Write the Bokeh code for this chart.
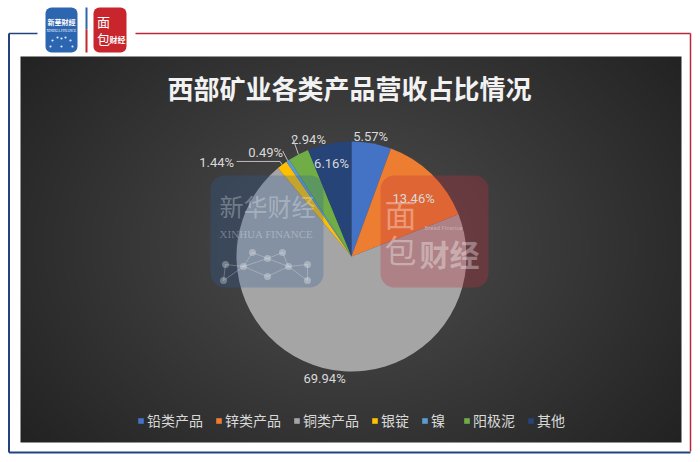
import numpy as np
from bokeh.plotting import figure
from bokeh.models import Range1d, ColumnDataSource
from bokeh.core.properties import value
from bokeh.embed import file_html
from bokeh.resources import INLINE

# ---------------- data ----------------
title_text = "西部矿业各类产品营收占比情况"
categories = ["铅类产品", "锌类产品", "铜类产品", "银锭", "镍", "阳极泥", "其他"]
shares = [5.57, 13.46, 69.94, 1.44, 0.49, 2.94, 6.16]
colors = ["#4472C4", "#ED7D31", "#A5A5A5", "#FFC000", "#5B9BD5", "#70AD47", "#264478"]

# label placement styles (radius factor, angle shift in degrees)
label_rf = [1.06, 0.74, 1.09, 1.43, 1.17, 1.085, 0.83]
label_dt = [-1.0, 2.6, -2.0, -18.0, -6.0, 7.3, -1.0]
# leader line anchors relative to label (px); None = no leader
leader_off = [None, None, None, (20, -1), (17, -2), (-16, -2), None]

W, H = 700, 462


def X(xr):
    return xr


def Y(yr):
    return H - yr


p = figure(width=W, height=H, x_range=Range1d(0, W), y_range=Range1d(0, H),
           output_backend="svg", toolbar_location=None, min_border=0,
           x_axis_type=None, y_axis_type=None,
           background_fill_color="white", border_fill_color="white",
           outline_line_color=None)
p.grid.visible = False

# ---------------- panel with radial gradient ----------------
pl, pr, pt, pb = X(20), X(681), Y(56), Y(442)
gw, gh = int(pr - pl), int(pt - pb)
xs = pl + np.arange(gw) + 0.5
ys = pb + np.arange(gh) + 0.5
XX, YY = np.meshgrid(xs, ys)
gcx, gcy = X(350), Y(245)
d = np.sqrt(((XX - gcx) / 330.0) ** 2 + ((YY - gcy) / 250.0) ** 2)
c = np.clip(78 - 43 * d / 1.25, 30, 80).astype(np.uint8)
img = np.empty((gh, gw), dtype=np.uint32)
view = img.view(dtype=np.uint8).reshape((gh, gw, 4))
view[..., 0] = c
view[..., 1] = c
view[..., 2] = c
view[..., 3] = 255
p.image_rgba(image=[img], x=pl, y=pb, dw=gw, dh=gh)

# ---------------- outer frame ----------------
blue_f = "#23437e"
red_f = "#b8283a"
p.line([X(8.5), X(8.5)], [Y(33), Y(452)], line_color=blue_f, line_width=2)
p.line([X(8.5), X(690)], [Y(452), Y(452)], line_color=blue_f, line_width=2)
p.line([X(8.5), X(37)], [Y(33), Y(33)], line_color=blue_f, line_width=1.5)
p.line([X(135), X(690)], [Y(33), Y(33)], line_color=red_f, line_width=1.5)
p.line([X(690), X(690)], [Y(33), Y(451)], line_color=red_f, line_width=1.5)

# ---------------- top logos ----------------
p.quad(left=X(45), right=X(77), top=Y(7), bottom=Y(52), fill_color="#2d66b0",
       line_color=None, border_radius=6)
p.text(x=[X(61)], y=[Y(21)], text=["新華財經"], text_font=value("Noto Sans CJK SC"),
       text_font_size="7px", text_color="white", text_align="center",
       text_baseline="middle", text_font_style="bold")
p.text(x=[X(61)], y=[Y(30)], text=["XINHUA FINANCE"], text_font=value("Liberation Serif"),
       text_font_size="3.5px", text_color="white", text_align="center",
       text_baseline="middle")
sx = [52, 57, 61, 65, 70, 50, 61, 72]
sy = [40, 37, 38, 37, 40, 46, 46, 46]
p.scatter(x=[X(v) for v in sx], y=[Y(v) for v in sy], size=2.2, fill_color="white",
          line_color=None, fill_alpha=0.85)
p.line([X(86), X(86)], [Y(7), Y(29)], line_color="#2d66b0", line_width=2)
p.line([X(86), X(86)], [Y(29), Y(52)], line_color="#c8252c", line_width=2)
p.quad(left=X(93), right=X(126), top=Y(7), bottom=Y(52), fill_color="#c8252c",
       line_color=None, border_radius=6)
p.text(x=[X(103)], y=[Y(21)], text=["面"], text_font=value("Noto Sans CJK SC"),
       text_font_size="13px", text_color="white", text_align="center",
       text_baseline="middle")
p.text(x=[X(103)], y=[Y(38)], text=["包"], text_font=value("Noto Sans CJK SC"),
       text_font_size="13px", text_color="white", text_align="center",
       text_baseline="middle")
p.text(x=[X(117)], y=[Y(39)], text=["财经"], text_font=value("Noto Sans CJK SC"),
       text_font_size="8px", text_color="white", text_align="center",
       text_baseline="middle", text_font_style="bold")

# ---------------- title ----------------
p.text(x=[X(349)], y=[Y(87)], text=[title_text], text_font=value("Noto Sans CJK SC"),
       text_font_size="26px", text_font_style="bold", text_color="#f2f2f2",
       text_align="center", text_baseline="middle")

# ---------------- pie ----------------
cx, cy, R = X(351), Y(256), 115.0
vals = np.array(shares, dtype=float)
total = vals.sum()
cum = np.cumsum(vals)
prev = cum - vals
start = np.pi / 2 - 2 * np.pi * prev / total
end = np.pi / 2 - 2 * np.pi * cum / total
src = ColumnDataSource(dict(name=categories, share=shares, color=colors,
                            start=start, end=end))
p.wedge(x=cx, y=cy, radius=R, start_angle="start", end_angle="end",
        direction="clock", fill_color="color", line_color=None, source=src,
        legend_field="name")

# ---------------- watermarks ----------------
p.quad(left=X(210), right=X(323), top=Y(175), bottom=Y(287), fill_color="#2c5e9e",
       fill_alpha=0.28, line_color=None, border_radius=14)
p.text(x=[X(267)], y=[Y(205)], text=["新华财经"], text_font=value("Noto Sans CJK SC"),
       text_font_size="24px", text_color="white", text_alpha=0.3,
       text_align="center", text_baseline="middle")
p.text(x=[X(266)], y=[Y(233)], text=["XINHUA FINANCE"], text_font=value("Liberation Serif"),
       text_font_size="11px", text_color="white", text_alpha=0.3,
       text_align="center", text_baseline="middle")
wx = [225, 243, 252, 267, 282, 288, 307, 223, 267, 307]
wy = [264, 266, 252, 258, 252, 266, 264, 280, 276, 280]
links = [(0, 1), (1, 2), (2, 3), (3, 4), (4, 5), (5, 6), (1, 3), (3, 5), (1, 8), (5, 8),
         (0, 7), (6, 9), (1, 7), (5, 9)]
p.segment(x0=[X(wx[a]) for a, b in links], y0=[Y(wy[a]) for a, b in links],
          x1=[X(wx[b]) for a, b in links], y1=[Y(wy[b]) for a, b in links],
          line_color="white", line_alpha=0.25, line_width=1)
p.scatter(x=[X(v) for v in wx], y=[Y(v) for v in wy], size=7, fill_color="white",
          fill_alpha=0.3, line_color=None)

p.quad(left=X(380), right=X(488), top=Y(175), bottom=Y(287), fill_color="#c0303a",
       fill_alpha=0.3, line_color=None, border_radius=14)
p.text(x=[X(400)], y=[Y(212)], text=["面"], text_font=value("Noto Sans CJK SC"),
       text_font_size="32px", text_color="white", text_alpha=0.35,
       text_align="center", text_baseline="middle")
p.text(x=[X(400)], y=[Y(248)], text=["包"], text_font=value("Noto Sans CJK SC"),
       text_font_size="32px", text_color="white", text_alpha=0.35,
       text_align="center", text_baseline="middle")
p.text(x=[X(449)], y=[Y(252)], text=["财经"], text_font=value("Noto Sans CJK SC"),
       text_font_size="30px", text_color="white", text_alpha=0.35,
       text_align="center", text_baseline="middle", text_font_style="bold")
p.text(x=[X(443)], y=[Y(227)], text=["Bread Finance"], text_font=value("Roboto"),
       text_font_size="6px", text_color="white", text_alpha=0.35,
       text_align="center", text_baseline="middle")

# ---------------- data labels ----------------
mid = 2 * np.pi * (prev + vals / 2) / total
lx, ly, lt = [], [], []
for i, v in enumerate(shares):
    th = mid[i] + np.deg2rad(label_dt[i])
    r = label_rf[i] * R
    lx.append(cx + r * np.sin(th))
    ly.append(cy + r * np.cos(th))
    lt.append(f"{v:.2f}%")
p.text(x=lx, y=ly, text=lt, text_font=value("Roboto"), text_font_size="13px",
       text_color="#d9d9d9", text_align="center", text_baseline="middle")

for i, off in enumerate(leader_off):
    if off is None:
        continue
    ax, ay = lx[i] + off[0], ly[i] - off[1]
    ex, ey = cx + R * np.sin(mid[i]), cy + R * np.cos(mid[i])
    if i == 3:
        p.line([ax, ex - 2, ex], [ay, ay, ey], line_color="#bfbfbf", line_width=1)
    else:
        p.line([ax, ex], [ay, ey], line_color="#bfbfbf", line_width=1)

# ---------------- legend ----------------
lg = p.legend[0]
lg.orientation = "horizontal"
lg.location = (137, 32)
lg.background_fill_alpha = 0
lg.border_line_alpha = 0
lg.padding = 0
lg.margin = 0
lg.spacing = 12
lg.glyph_width = 7
lg.glyph_height = 7
lg.label_standoff = 3
lg.label_height = 20
lg.label_text_font = "Noto Sans CJK SC"
lg.label_text_font_size = "14px"
lg.label_text_color = "#d9d9d9"

open("out.html", "w").write(file_html(p, INLINE))
